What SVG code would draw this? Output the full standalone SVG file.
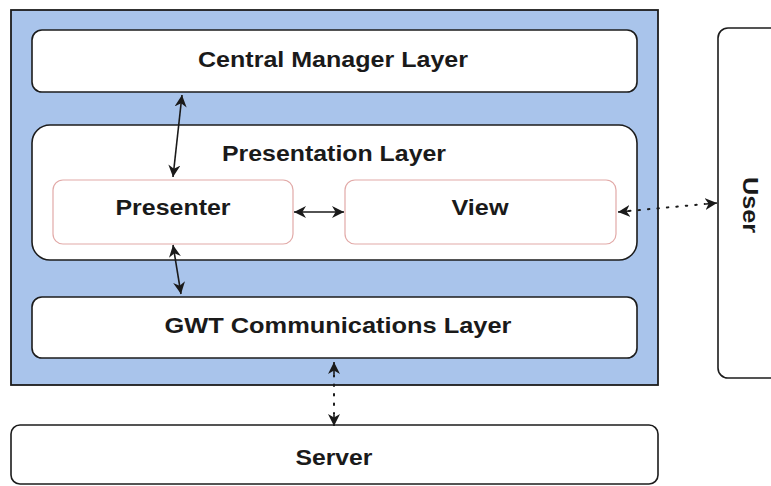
<svg xmlns="http://www.w3.org/2000/svg" width="771" height="486" viewBox="0 0 771 486">
  <style>
    .layer { fill: #ffffff; stroke: #1c1c1c; stroke-width: 1.6; }
    .part { fill: #ffffff; stroke: #e2aaa8; stroke-width: 1.2; }
    .label { font-family: "Liberation Sans", Arial, sans-serif; font-weight: bold; font-size: 22px; fill: #1a1a1a; text-anchor: middle; }
    .link { stroke: #1a1a1a; stroke-width: 1.6; fill: none; }
    .dotted { stroke: #1a1a1a; stroke-width: 2; fill: none; stroke-dasharray: 1.5 8; stroke-linecap: round; }
  </style>
  <defs>
    <marker id="head" viewBox="0 0 10 10" refX="10" refY="5" markerWidth="12" markerHeight="12" markerUnits="userSpaceOnUse" orient="auto-start-reverse">
      <path d="M0,0 L10,5 L0,10 L3,5 Z" fill="#1a1a1a"/>
    </marker>
  </defs>

  <rect width="771" height="486" fill="#ffffff"/>

  <!-- client container -->
  <g id="client">
    <rect x="11" y="10" width="647" height="375" fill="#a9c4eb" stroke="#1c1c1c" stroke-width="1.8"/>
  </g>

  <g id="central-manager">
    <rect class="layer" x="32" y="30" width="605" height="62" rx="10"/>
    <text class="label" x="333" y="67" textLength="270" lengthAdjust="spacingAndGlyphs">Central Manager Layer</text>
  </g>

  <g id="presentation">
    <rect class="layer" x="32" y="125" width="605" height="135" rx="18"/>
    <text class="label" x="334" y="161" textLength="224" lengthAdjust="spacingAndGlyphs">Presentation Layer</text>
  </g>

  <g id="presenter">
    <rect class="part" x="53" y="180" width="240" height="64" rx="10"/>
    <text class="label" x="173" y="215" textLength="115" lengthAdjust="spacingAndGlyphs">Presenter</text>
  </g>

  <g id="view">
    <rect class="part" x="345" y="180" width="271" height="64" rx="10"/>
    <text class="label" x="480" y="215" textLength="57" lengthAdjust="spacingAndGlyphs">View</text>
  </g>

  <g id="gwt-communications">
    <rect class="layer" x="32" y="297" width="605" height="61" rx="10"/>
    <text class="label" x="338" y="333" textLength="347" lengthAdjust="spacingAndGlyphs">GWT Communications Layer</text>
  </g>

  <g id="server">
    <rect class="layer" x="11" y="425" width="647" height="59" rx="9"/>
    <text class="label" x="334" y="465" textLength="77" lengthAdjust="spacingAndGlyphs">Server</text>
  </g>

  <g id="user">
    <rect class="layer" x="718" y="28" width="70" height="350" rx="10"/>
    <text class="label" transform="translate(743,205) rotate(90)" x="0" y="0" textLength="56" lengthAdjust="spacingAndGlyphs">User</text>
  </g>

  <!-- connectors -->
  <g id="connectors">
    <line class="link" x1="182" y1="95" x2="173" y2="177" marker-start="url(#head)" marker-end="url(#head)"/>
    <line class="link" x1="173" y1="245" x2="181" y2="294" marker-start="url(#head)" marker-end="url(#head)"/>
    <line class="link" x1="294" y1="212" x2="344" y2="212" marker-start="url(#head)" marker-end="url(#head)"/>
    <line class="dotted" x1="629" y1="211" x2="705" y2="204"/>
    <line class="link" x1="629" y1="211" x2="618" y2="212" marker-end="url(#head)"/>
    <line class="link" x1="706" y1="204" x2="717" y2="203" marker-end="url(#head)"/>
    <line class="dotted" x1="334" y1="375" x2="334" y2="414"/>
    <line class="link" x1="334" y1="374" x2="334" y2="362" marker-end="url(#head)"/>
    <line class="link" x1="334" y1="415" x2="334" y2="426" marker-end="url(#head)"/>
  </g>
</svg>
